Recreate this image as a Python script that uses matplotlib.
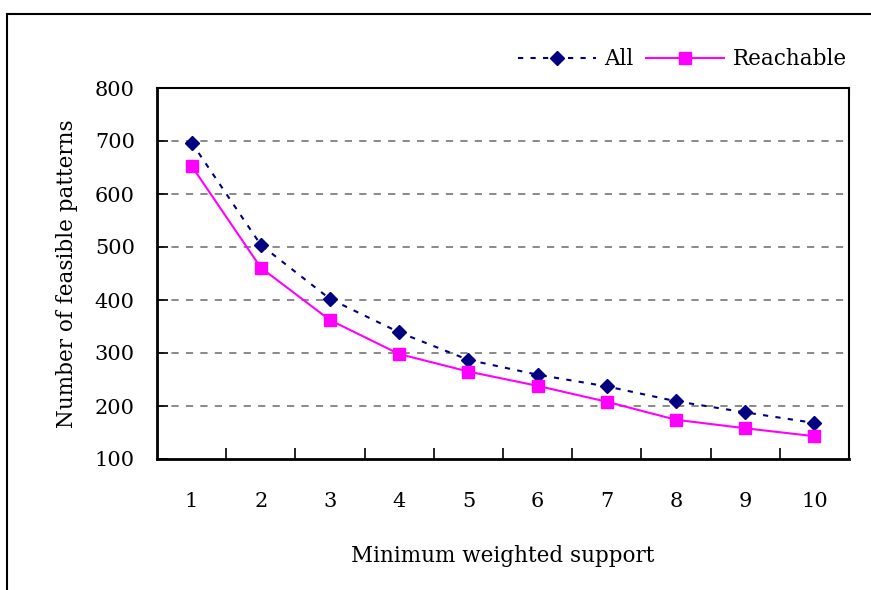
import matplotlib.pyplot as plt
import numpy as np
from matplotlib.patches import Rectangle

support = ['1', '2', '3', '4', '5', '6', '7', '8', '9', '10']
all_patterns = [697, 504, 402, 339, 287, 259, 237, 209, 188, 168]
reachable = [653, 461, 362, 298, 265, 238, 208, 174, 158, 143]

plt.rcParams['font.family'] = ['DejaVu Serif']

fig = plt.figure(figsize=(8.71, 5.90), dpi=100)
ax = fig.add_axes([157 / 871, 1 - 459 / 590, 692 / 871, 371 / 590])

x = np.arange(len(support))
ax.plot(x, all_patterns, color='#000080', linestyle=(0, (2.5, 3.5)), linewidth=1.5,
        marker='D', markersize=7, label='All')
ax.plot(x, reachable, color='#FF00FF', linewidth=1.5,
        marker='s', markersize=9, label='Reachable')

ax.set_xlim(-0.5, len(support) - 0.5)
ax.set_ylim(100, 800)
ax.set_yticks(range(100, 801, 100))
ax.set_xticks(x)
ax.set_xticklabels(support)
ax.set_xticks(x[:-1] + 0.5, minor=True)
ax.tick_params(axis='x', which='major', length=0, pad=24, labelsize=15)
ax.tick_params(axis='x', which='minor', direction='in', length=8, width=1.2)
ax.tick_params(axis='y', direction='in', length=8, width=1.2, pad=16, labelsize=15)

for y in range(200, 800, 100):
    ax.axhline(y, color='#808080', linestyle=(0, (4, 4)), linewidth=1.3, zorder=0)

for side in ['left', 'bottom']:
    ax.spines[side].set_linewidth(2)
for side in ['top', 'right']:
    ax.spines[side].set_linewidth(1.5)

ax.set_xlabel('Minimum weighted support', fontsize=15.5, labelpad=24)
ax.set_ylabel('Number of feasible patterns', fontsize=15.5, labelpad=12)

fig.legend(loc='upper right', bbox_to_anchor=(866 / 871, 1 - 29 / 590), ncol=2,
           frameon=False, fontsize=15.5, handlelength=3.6, columnspacing=0.6,
           handletextpad=0.4)

frame = Rectangle((7 / 871, -0.1), 1.2, 1.1 - 14 / 590, transform=fig.transFigure,
                  fill=False, edgecolor='black', linewidth=1.5, clip_on=False)
fig.patches.append(frame)

fig.savefig('out.png', dpi=100)
